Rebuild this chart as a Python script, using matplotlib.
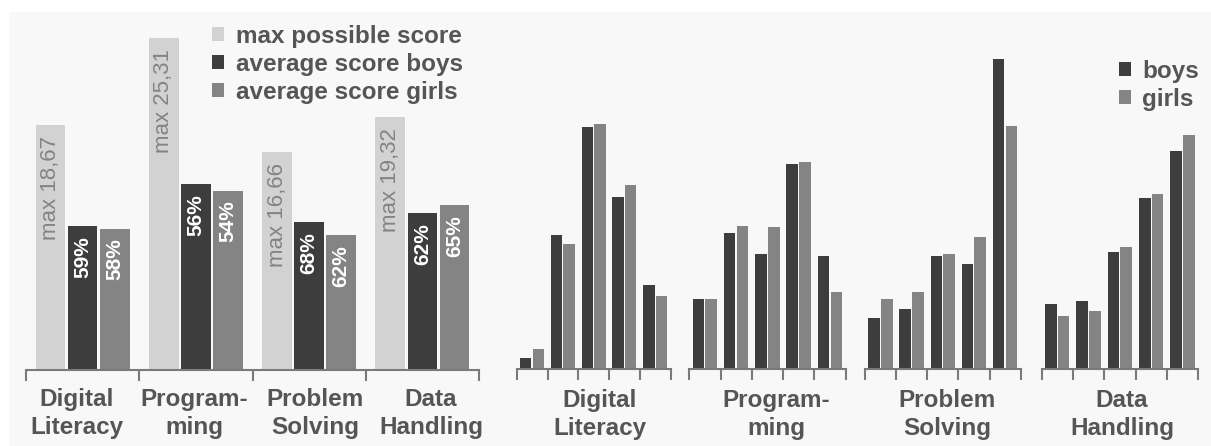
import matplotlib
matplotlib.use("Agg")
import matplotlib.pyplot as plt
from matplotlib.patches import Rectangle
import numpy as np

plt.rcParams['font.family'] = ['Liberation Sans', 'DejaVu Sans']

# ---------------- data ----------------
categories = ["Digital\nLiteracy", "Program-\nming", "Problem\nSolving", "Data\nHandling"]
max_score = [18.67, 25.31, 16.66, 19.32]
max_labels = ["max 18,67", "max 25,31", "max 16,66", "max 19,32"]
avg_boys = [11.0, 14.2, 11.3, 12.0]
avg_girls = [10.8, 13.7, 10.3, 12.6]
pct_boys = ["59%", "56%", "68%", "62%"]
pct_girls = ["58%", "54%", "62%", "65%"]

# distribution of students over 5 score bins (percent)
dist_boys = [
    [1.7, 20.9, 37.8, 26.9, 13.1],
    [10.9, 21.3, 18.0, 32.1, 17.6],
    [7.9, 9.4, 17.6, 16.4, 48.4],
    [10.2, 10.6, 18.3, 26.7, 34.1],
]
dist_girls = [
    [3.1, 19.5, 38.3, 28.7, 11.4],
    [10.9, 22.4, 22.2, 32.4, 12.0],
    [10.9, 12.0, 18.0, 20.6, 38.0],
    [8.3, 9.0, 19.1, 27.3, 36.5],
]

# ---------------- style ----------------
C_MAX = '#d2d2d2'
C_BOYS = '#3d3d3d'
C_GIRLS = '#848484'
C_TXT = '#555555'
C_AXIS = '#7a7a7a'
W, H = 1211, 446
FS = 17.5
LS = 1.3

fig = plt.figure(figsize=(W / 100, H / 100), dpi=100)
fig.patch.set_facecolor('white')
fig.patches.append(Rectangle((9 / W, 0), 1 - 9 / W, 1 - 12 / H, transform=fig.transFigure,
                             facecolor='#f8f8f8', edgecolor='none', zorder=-10))


def px_axes(x0, x1, ybase, ytop):
    return fig.add_axes([x0 / W, (H - ybase) / H, (x1 - x0) / W, (ybase - ytop) / H])


def style_axis(ax):
    for s in ['top', 'right', 'left']:
        ax.spines[s].set_visible(False)
    ax.spines['bottom'].set_color(C_AXIS)
    ax.spines['bottom'].set_linewidth(1.5)
    ax.set_yticks([])
    ax.patch.set_alpha(0)


# ---------------- left panel ----------------
axL = px_axes(26, 479, 370, 10)
style_axis(axL)
x = np.arange(len(categories))
off, bw = 0.283, 0.262
bm = axL.bar(x - off, max_score, bw, color=C_MAX, label='max possible score')
bb = axL.bar(x, avg_boys, bw, color=C_BOYS, label='average score boys')
bg = axL.bar(x + off, avg_girls, bw, color=C_GIRLS, label='average score girls')
axL.set_xlim(-0.5, len(categories) - 0.5)
axL.set_ylim(0, 360 / 13.1)

for rect, lab in zip(bm, max_labels):
    axL.annotate(lab, (rect.get_x() + rect.get_width() / 2, rect.get_height()),
                 xytext=(0, -11), textcoords='offset pixels', rotation=90,
                 ha='center', va='top', color='#838383', fontsize=16)
for bars, labs in ((bb, pct_boys), (bg, pct_girls)):
    for rect, lab in zip(bars, labs):
        axL.annotate(lab, (rect.get_x() + rect.get_width() / 2, rect.get_height()),
                     xytext=(0, -10), textcoords='offset pixels', rotation=90,
                     ha='center', va='top', color='white', fontsize=15, fontweight='bold')

label_pos = [-0.054, 0.983, 2.052, 3.076]
axL.set_xticks(label_pos)
axL.set_xticklabels(categories, fontsize=FS, fontweight='bold', color=C_TXT, linespacing=LS)
axL.tick_params(axis='x', which='major', length=0, pad=13)
axL.set_xticks(np.arange(len(categories) + 1) - 0.5, minor=True)
axL.tick_params(axis='x', which='minor', length=8, width=1.5, color=C_AXIS, direction='out')

axL.legend(handles=[bm, bb, bg], loc='upper left', bbox_to_anchor=(212 / W, 1 - 25 / H),
           bbox_transform=fig.transFigure, frameon=False,
           prop={'weight': 'bold', 'size': FS}, labelcolor=C_TXT,
           handlelength=0.5, handleheight=0.5, handletextpad=0.5,
           labelspacing=0.2, borderpad=0, borderaxespad=0)

# ---------------- right panel ----------------
group_x = [(516.7, 670.7), (689.3, 845.7), (865, 1020.7), (1041.7, 1198.3)]
label_frac = [0.541, 0.554, 0.527, 0.513]
nb = 5
bins = np.arange(nb)
rw = 0.37
handles = None
for gi, (x0, x1) in enumerate(group_x):
    ax = px_axes(x0, x1, 369, 10)
    style_axis(ax)
    hb = ax.bar(bins + 0.29, dist_boys[gi], rw, color=C_BOYS, label='boys')
    hg = ax.bar(bins + 0.70, dist_girls[gi], rw, color=C_GIRLS, label='girls')
    ax.set_xlim(0, nb)
    ax.set_ylim(0, 359 / 6.4)
    ax.set_xticks(np.arange(nb + 1))
    ax.set_xticklabels([])
    ax.tick_params(axis='x', length=8, width=1.5, color=C_AXIS, direction='out')
    ax.text(label_frac[gi], -20 / 359, categories[gi], transform=ax.transAxes,
            ha='center', va='top', fontsize=FS, fontweight='bold', color=C_TXT,
            linespacing=LS)
    handles = (hb, hg)

fig.legend(handles=list(handles), loc='upper left', bbox_to_anchor=(1119 / W, 1 - 60 / H),
           bbox_transform=fig.transFigure, frameon=False,
           prop={'weight': 'bold', 'size': FS}, labelcolor=C_TXT,
           handlelength=0.5, handleheight=0.5, handletextpad=0.45,
           labelspacing=0.2, borderpad=0, borderaxespad=0)

fig.savefig('out.png', dpi=100, facecolor=fig.get_facecolor())
